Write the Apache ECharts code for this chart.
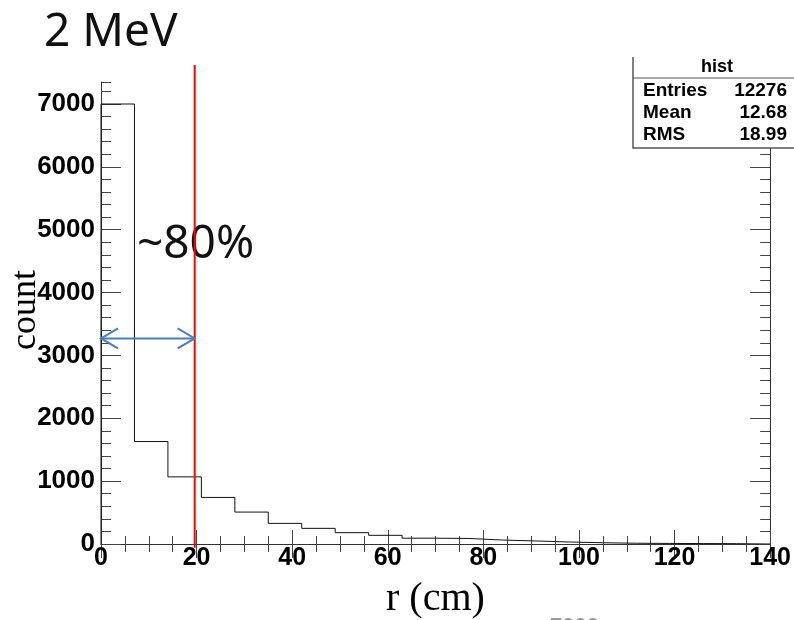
<!DOCTYPE html>
<html>
<head>
<meta charset="utf-8">
<script src="https://cdn.jsdelivr.net/npm/echarts@6/dist/echarts.min.js"></script>
<style>
html, body { margin: 0; padding: 0; background: #fff; }
#main { width: 794px; height: 620px; }
</style>
</head>
<body>
<div id="main"></div>
<script>
// histogram bins (cm) and counts
const binEdges = [0, 7, 14, 21, 28, 35, 42, 49, 56, 63, 70, 77, 84, 91, 98, 105, 112, 119, 126, 133, 140];
const binCounts = [7000, 1630, 1068, 741, 508, 328, 249, 180, 138, 92, 88, 63, 48, 32, 20, 12, 9, 7, 5, 0];

// stats box
const statNames = ['Entries', 'Mean', 'RMS'];
const statValues = ['12276', '12.68', '18.99'];

// annotation: cut at ~20 cm, arrow at ~3270 counts
const cutR = 19.6;
const cutSpan = [-60, 7620];
const arrowLevel = 3270;

const labelFont = 'Liberation Sans';

const histPoints = [[binEdges[0], 0]];
binCounts.forEach((c, i) => {
    histPoints.push([binEdges[i], c], [binEdges[i + 1], c]);
});
histPoints.push([binEdges[binEdges.length - 1], 0]);

const frameLine = { show: true, lineStyle: { color: '#333', width: 1 } };

function xAxisDef(pos, showLabels) {
    return {
        type: 'value', position: pos, min: 0, max: 140, interval: 20,
        axisLine: frameLine,
        splitLine: { show: false },
        axisTick: { inside: true, length: 14, lineStyle: { color: '#444' } },
        minorTick: { show: true, splitNumber: 4, length: 8, lineStyle: { color: '#444' } },
        axisLabel: {
            show: showLabels, margin: 2, color: '#000',
            fontFamily: labelFont, fontWeight: 'bold', fontSize: 25
        }
    };
}

function yAxisDef(pos, interval, tickLen, showLabels, showLine) {
    return {
        type: 'value', position: pos, min: 0, max: 7350, interval: interval,
        axisLine: showLine ? frameLine : { show: false },
        splitLine: { show: false },
        axisTick: { inside: true, length: tickLen, lineStyle: { color: '#444' } },
        axisLabel: {
            show: showLabels, margin: 6, color: '#000', showMaxLabel: false,
            formatter: (v) => String(v),
            fontFamily: labelFont, fontWeight: 'bold', fontSize: 26
        }
    };
}

function renderArrow(params, api) {
    const a = api.coord([api.value(0), api.value(2)]);
    const b = api.coord([api.value(1), api.value(2)]);
    const h = 17, w = 10;
    const st = { stroke: '#4a7ebb', lineWidth: 2, fill: null };
    return {
        type: 'group',
        children: [
            { type: 'line', shape: { x1: a[0], y1: a[1], x2: b[0], y2: b[1] }, style: st },
            { type: 'polyline', shape: { points: [[a[0] + h, a[1] - w], [a[0], a[1]], [a[0] + h, a[1] + w]] }, style: st },
            { type: 'polyline', shape: { points: [[b[0] - h, b[1] - w], [b[0], b[1]], [b[0] - h, b[1] + w]] }, style: st }
        ]
    };
}

// stats box pieces, drawn above the frame
const boxZ = 100;
const statBox = [
    { type: 'rect', z: boxZ, shape: { x: 633, y: 57, width: 170, height: 91 }, style: { fill: '#fff' } },
    { type: 'polyline', z: boxZ + 1, shape: { points: [[633, 57], [633, 148], [794, 148]] }, style: { stroke: '#555', lineWidth: 1.5, fill: null } },
    { type: 'line', z: boxZ + 1, shape: { x1: 633, y1: 78, x2: 794, y2: 78 }, style: { stroke: '#555', lineWidth: 1 } },
    {
        type: 'text', z: boxZ + 1, x: 717, y: 58,
        style: { text: 'hist', font: 'bold 18px ' + labelFont, fill: '#000', textAlign: 'center' }
    }
];
statNames.forEach((n, i) => {
    statBox.push({
        type: 'text', z: boxZ + 1, x: 643, y: 81 + i * 22,
        style: { text: n, font: 'bold 19px ' + labelFont, fill: '#000' }
    });
    statBox.push({
        type: 'text', z: boxZ + 1, x: 787, y: 81 + i * 22,
        style: { text: statValues[i], font: 'bold 19px ' + labelFont, fill: '#000', textAlign: 'right' }
    });
});

const chart = echarts.init(document.getElementById('main'));
chart.setOption({
    animation: false,
    grid: { left: 101, top: 82, width: 673, height: 462, containLabel: false },
    xAxis: [xAxisDef('bottom', true), xAxisDef('top', false)],
    yAxis: [
        yAxisDef('left', 1000, 20, true, true),
        yAxisDef('left', 200, 10, false, false),
        yAxisDef('right', 1000, 20, false, true),
        yAxisDef('right', 200, 10, false, false)
    ],
    series: [
        {
            type: 'line', data: histPoints, symbol: 'none',
            lineStyle: { color: '#111', width: 1 }, z: 3
        },
        {
            type: 'line', data: [[cutR, cutSpan[0]], [cutR, cutSpan[1]]], symbol: 'none', clip: false,
            lineStyle: { color: '#ff0000', width: 2 }, z: 5
        },
        {
            type: 'custom', renderItem: renderArrow, clip: false, z: 6,
            data: [[0, cutR, arrowLevel]]
        }
    ],
    graphic: [
        {
            type: 'text', left: 44, top: 10,
            style: { text: '2 MeV', font: '46px "Noto Sans"', fill: '#111' }
        },
        {
            type: 'text', left: 137, top: 222,
            style: { text: '~80%', font: '46px "Noto Sans"', fill: '#111' }
        },
        {
            type: 'text', left: 8, top: 270, rotation: Math.PI / 2,
            style: { text: 'count', font: '36px "Liberation Serif"', fill: '#000' }
        },
        {
            type: 'text', left: 386, top: 579,
            style: { text: 'r (cm)', font: '40px "Liberation Serif"', fill: '#000' }
        },
        {
            type: 'text', left: 550, top: 616,
            style: { text: '7000', font: 'bold 22px ' + labelFont, fill: '#999' }
        }
    ].concat(statBox)
});
</script>
</body>
</html>
